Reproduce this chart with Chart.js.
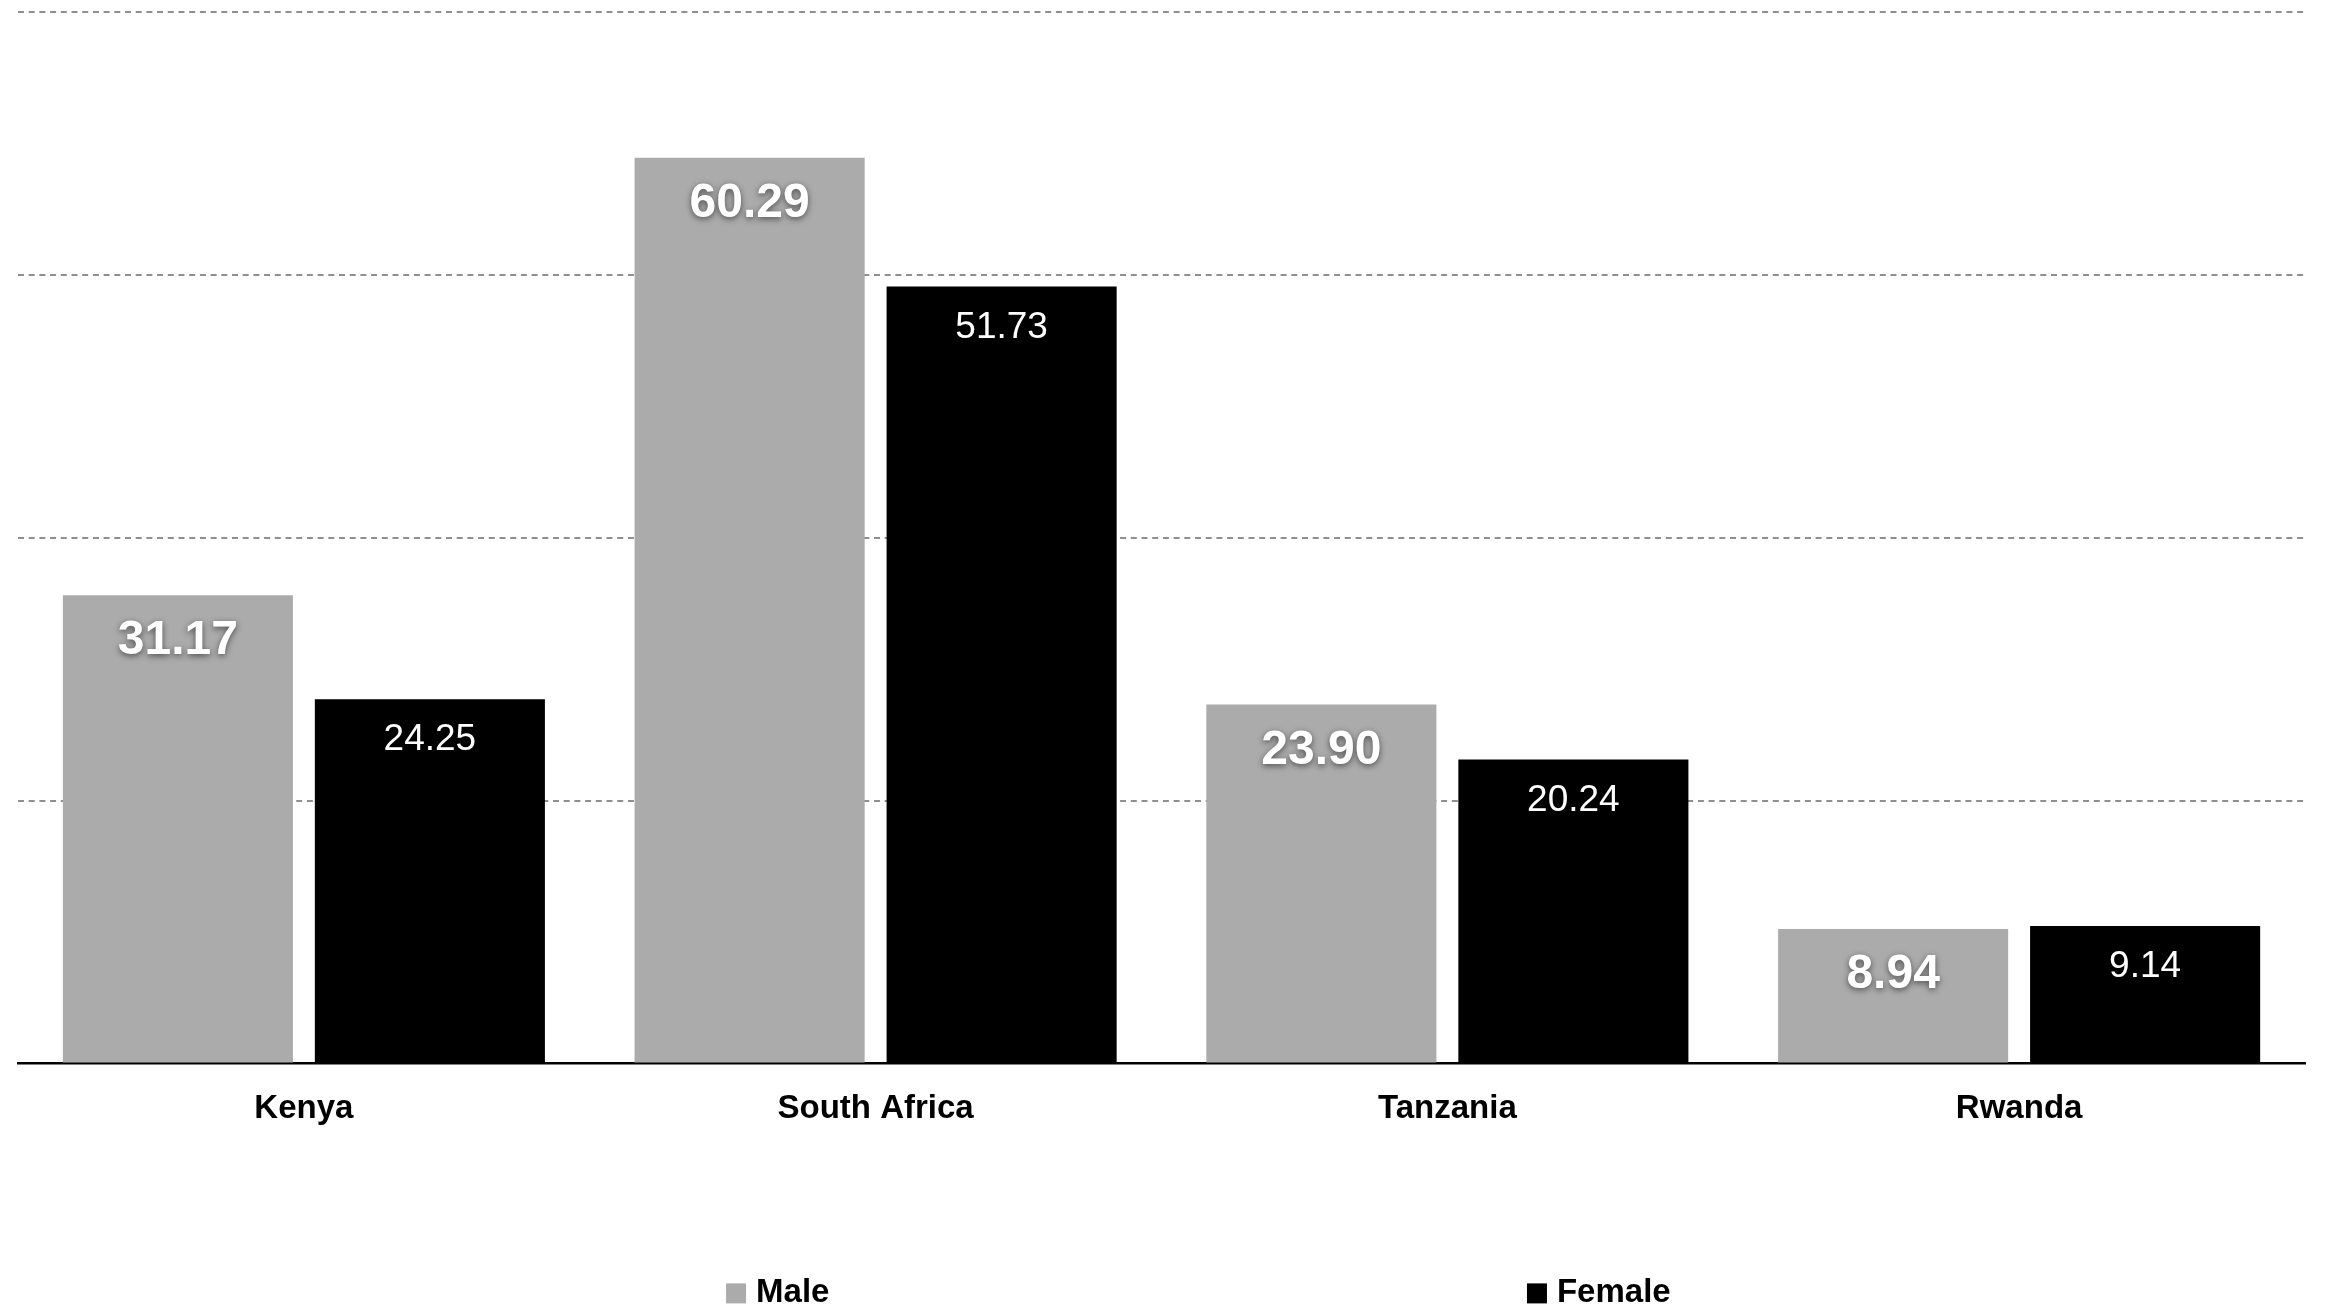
<!DOCTYPE html>
<html>
<head>
<meta charset="utf-8">
<title>Male and Female by Country</title>
<script src="https://cdn.jsdelivr.net/npm/chart.js@4/dist/chart.umd.min.js"></script>
<style>
  html, body { margin: 0; padding: 0; background: #ffffff; }
  #wrap { width: 2328px; height: 1309px; }
</style>
</head>
<body>
<div id="wrap"><canvas id="chart" width="2328" height="1309"></canvas></div>
<script>
// Chart data
const categories = ['Kenya', 'South Africa', 'Tanzania', 'Rwanda'];
const seriesNames = ['Male', 'Female'];
const maleValues = [31.17, 60.29, 23.90, 8.94];
const femaleValues = [24.25, 51.73, 20.24, 9.14];
const valueAxisMax = 70;
const valueAxisStep = 17.5;

const FONT = '"Liberation Sans", Arial, Helvetica, sans-serif';
const MALE_COLOR = '#ababab';
const FEMALE_COLOR = '#000000';

// Value labels written inside the top of each bar
const barValueLabels = {
  id: 'barValueLabels',
  afterDatasetsDraw(chart) {
    const ctx = chart.ctx;
    chart.data.datasets.forEach((ds, i) => {
      const meta = chart.getDatasetMeta(i);
      const bold = i === 0;
      meta.data.forEach((bar, j) => {
        const v = ds.data[j];
        ctx.save();
        ctx.textAlign = 'center';
        ctx.textBaseline = 'middle';
        ctx.fillStyle = '#ffffff';
        if (bold) {
          ctx.font = 'bold 48px ' + FONT;
          ctx.shadowColor = 'rgba(0,0,0,0.55)';
          ctx.shadowBlur = 6;
          ctx.shadowOffsetY = 2;
          ctx.fillText(v.toFixed(2), bar.x, bar.y + 46);
        } else {
          ctx.font = '37px ' + FONT;
          ctx.fillText(v.toFixed(2), bar.x, bar.y + 41);
        }
        ctx.restore();
      });
    });
  }
};

// Legend spread along the bottom of the chart
const spreadLegend = {
  id: 'spreadLegend',
  afterDraw(chart) {
    const ctx = chart.ctx;
    const area = chart.chartArea;
    const w = area.right - area.left;
    const starts = [0.3096, 0.6598];
    const cy = area.bottom + 230;
    chart.data.datasets.forEach((ds, i) => {
      const x = area.left + starts[i] * w;
      ctx.save();
      ctx.fillStyle = ds.backgroundColor;
      ctx.fillRect(x, cy - 10, 20, 20);
      ctx.fillStyle = '#000000';
      ctx.font = 'bold 33px ' + FONT;
      ctx.textAlign = 'left';
      ctx.textBaseline = 'middle';
      ctx.fillText(ds.label, x + 30, cy);
      ctx.restore();
    });
  }
};

new Chart(document.getElementById('chart'), {
  type: 'bar',
  data: {
    labels: categories,
    datasets: [
      { label: seriesNames[0], data: maleValues, backgroundColor: MALE_COLOR },
      { label: seriesNames[1], data: femaleValues, backgroundColor: FEMALE_COLOR }
    ]
  },
  options: {
    responsive: false,
    devicePixelRatio: 1,
    animation: false,
    layout: { padding: { left: 18, right: 23, top: 12, bottom: 154 } },
    datasets: {
      bar: { categoryPercentage: 0.8815, barPercentage: 0.913 }
    },
    plugins: {
      legend: { display: false },
      tooltip: { enabled: false }
    },
    scales: {
      x: {
        grid: { display: false, drawTicks: false },
        border: { display: true, color: '#000000', width: 2.5 },
        ticks: {
          color: '#000000',
          padding: 26,
          font: { family: FONT, size: 33, weight: 'bold' }
        }
      },
      y: {
        min: 0,
        max: valueAxisMax,
        ticks: { display: false, stepSize: valueAxisStep },
        border: { display: false, dash: [6, 4.7] },
        grid: { color: '#8f8f8f', lineWidth: 2, drawTicks: false }
      }
    }
  },
  plugins: [barValueLabels, spreadLegend]
});
</script>
</body>
</html>
